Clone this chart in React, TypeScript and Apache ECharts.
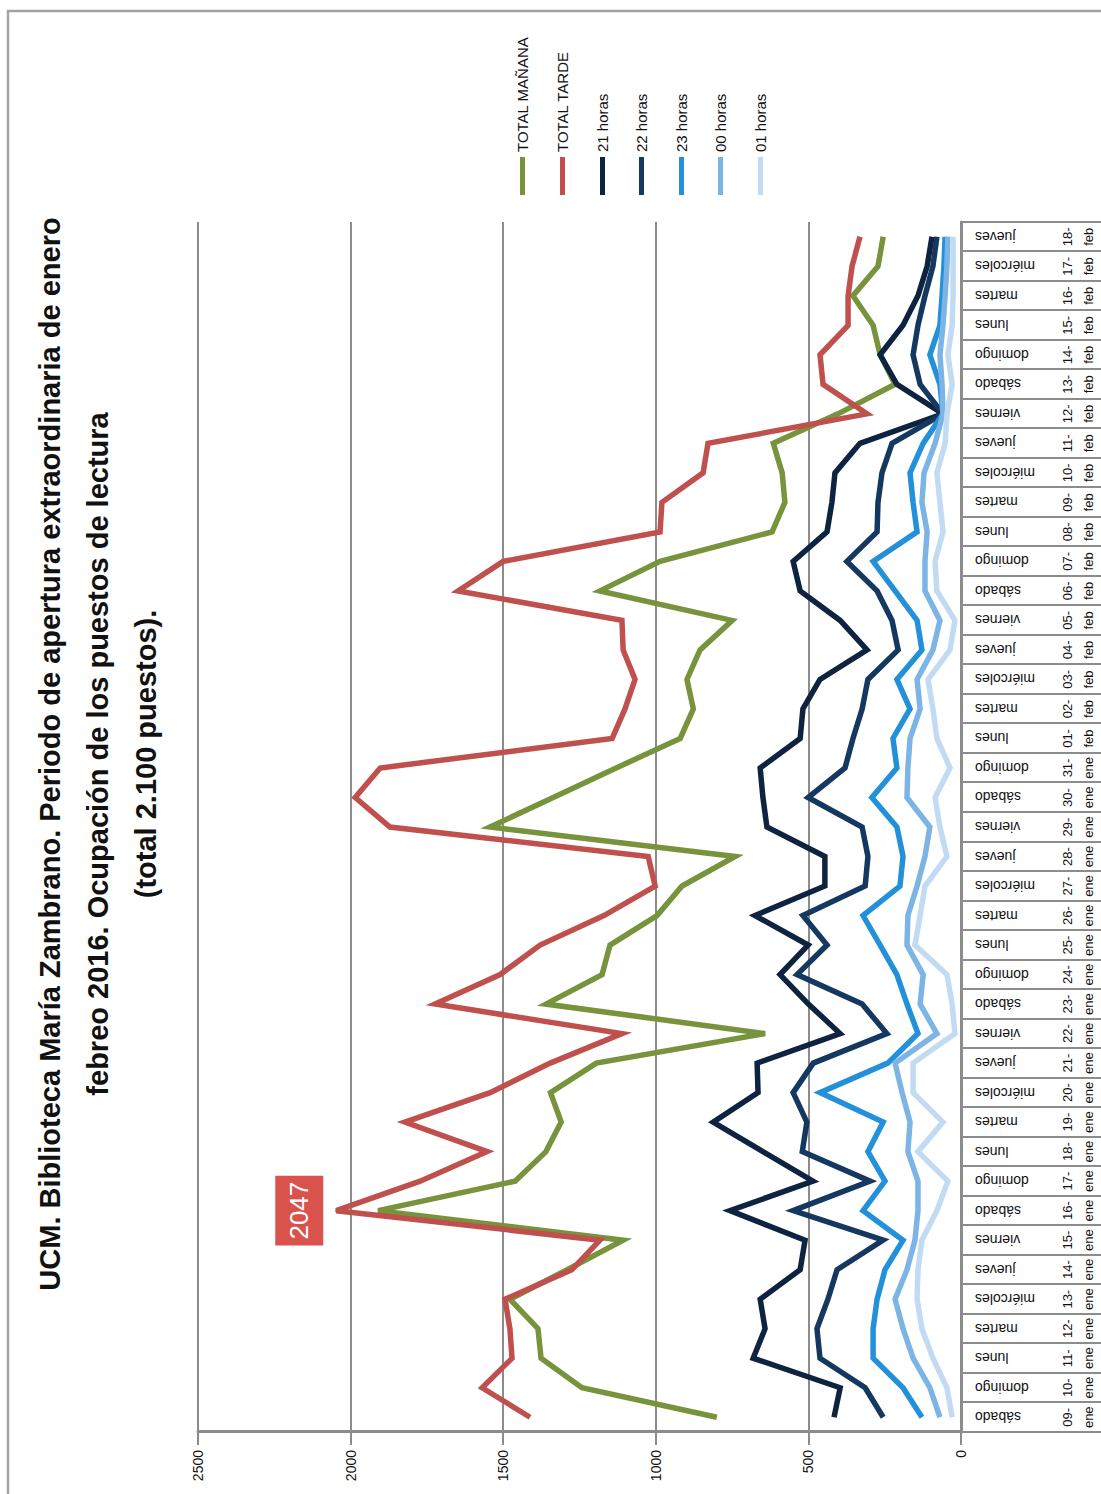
import React, { useEffect, useRef } from 'react';
import * as echarts from 'echarts';

const dates = [
  '09-ene', '10-ene', '11-ene', '12-ene', '13-ene', '14-ene', '15-ene', '16-ene', '17-ene', '18-ene',
  '19-ene', '20-ene', '21-ene', '22-ene', '23-ene', '24-ene', '25-ene', '26-ene', '27-ene', '28-ene',
  '29-ene', '30-ene', '31-ene', '01-feb', '02-feb', '03-feb', '04-feb', '05-feb', '06-feb', '07-feb',
  '08-feb', '09-feb', '10-feb', '11-feb', '12-feb', '13-feb', '14-feb', '15-feb', '16-feb', '17-feb',
  '18-feb',
];

const days = [
  'sábado', 'domingo', 'lunes', 'martes', 'miércoles', 'jueves', 'viernes',
  'sábado', 'domingo', 'lunes', 'martes', 'miércoles', 'jueves', 'viernes',
  'sábado', 'domingo', 'lunes', 'martes', 'miércoles', 'jueves', 'viernes',
  'sábado', 'domingo', 'lunes', 'martes', 'miércoles', 'jueves', 'viernes',
  'sábado', 'domingo', 'lunes', 'martes', 'miércoles', 'jueves', 'viernes',
  'sábado', 'domingo', 'lunes', 'martes', 'miércoles', 'jueves',
];

const seriesNames = ['TOTAL MAÑANA', 'TOTAL TARDE', '21 horas', '22 horas', '23 horas', '00 horas', '01 horas'];

const totalManana = [
  800, 1242, 1376, 1386, 1478, 1290, 1107, 1910, 1461, 1360,
  1310, 1345, 1195, 642, 1360, 1176, 1150, 996, 914, 740,
  1543, 1336, 1130, 920, 877, 898, 855, 750, 1183, 986,
  619, 577, 586, 615, 403, 216, 265, 288, 354, 272,
  255,
];

const totalTarde = [
  1412, 1569, 1471, 1478, 1494, 1275, 1183, 2047, 1772, 1553,
  1822, 1543, 1346, 1111, 1723, 1510, 1379, 1170, 1002, 1025,
  1871, 1985, 1903, 1143, 1101, 1068, 1107, 1111, 1648, 1500,
  986, 980, 845, 829, 308, 452, 462, 370, 370, 357,
  331,
];

const h21 = [
  416, 396, 681, 642, 658, 527, 511, 757, 485, 649,
  812, 665, 668, 396, 500, 593, 501, 675, 446, 446,
  636, 649, 658, 527, 518, 462, 308, 396, 527, 550,
  439, 423, 413, 331, 59, 210, 265, 190, 141, 111,
  95,
];

const h22 = [
  255, 314, 462, 472, 436, 406, 255, 550, 298, 520,
  505, 550, 484, 243, 324, 537, 439, 518, 314, 305,
  324, 501, 380, 354, 324, 305, 206, 226, 275, 374,
  275, 272, 259, 226, 59, 134, 157, 141, 118, 92,
  79,
];

const h23 = [
  128, 190, 288, 288, 275, 249, 190, 321, 249, 305,
  255, 462, 240, 141, 177, 210, 265, 321, 200, 190,
  210, 292, 210, 223, 167, 210, 128, 144, 216, 288,
  144, 157, 167, 124, 59, 69, 102, 69, 62, 56,
  52,
];

const h00 = [
  69, 102, 157, 190, 216, 177, 151, 141, 141, 174,
  167, 193, 216, 79, 134, 124, 177, 174, 144, 118,
  102, 177, 174, 167, 134, 144, 92, 69, 118, 118,
  111, 128, 121, 85, 59, 62, 69, 59, 52, 46,
  43,
];

const h01 = [
  29, 46, 92, 128, 144, 141, 128, 79, 43, 141,
  59, 157, 157, 20, 29, 46, 151, 134, 118, 46,
  69, 85, 36, 79, 92, 108, 36, 20, 79, 85,
  59, 69, 79, 52, 46, 29, 43, 29, 26, 26,
  26,
];

const seriesData = [totalManana, totalTarde, h21, h22, h23, h00, h01];
const seriesColors = ['#77933C', '#C0504D', '#0E2340', '#14385F', '#2390DA', '#7DB4E6', '#C3DBF2'];
const labelledSeries = 1;
const labelledIndex = 7;

const FONT = "'Liberation Sans', Arial, sans-serif";
const GRAY = '#8c8c8c';

export default function App() {
  const ref = useRef<HTMLDivElement>(null);

  useEffect(() => {
    if (!ref.current) return;
    const chart = echarts.init(ref.current, null, { renderer: 'svg' });

    const series = seriesNames.map((name, k) => ({
      name,
      type: 'line',
      xAxisIndex: 0,
      yAxisIndex: 0,
      symbol: 'none',
      showSymbol: true,
      lineStyle: { width: 5.5, color: seriesColors[k], join: 'miter' },
      itemStyle: { color: seriesColors[k] },
      data: seriesData[k].map((v, i) =>
        k === labelledSeries && i === labelledIndex
          ? {
              value: v,
              symbol: 'circle',
              symbolSize: 2,
              label: {
                show: true,
                position: 'top',
                distance: 12,
                formatter: '{c}',
                color: '#ffffff',
                fontFamily: FONT,
                fontSize: 26,
                lineHeight: 28,
                backgroundColor: '#D9524C',
                padding: [10, 6, 10, 6],
              },
            }
          : v
      ),
      z: 2 + k,
    }));

    const legendCenters = [522, 562, 602, 641, 681, 720, 760];

    chart.setOption({
      animation: false,
      backgroundColor: '#ffffff',
      textStyle: { fontFamily: FONT },
      title: {
        text:
          'UCM. Biblioteca María Zambrano. Periodo de apertura extraordinaria de enero\nfebreo 2016. Ocupación de los puestos de lectura\n(total 2.100 puestos).',
        left: 740,
        top: 26,
        textAlign: 'center',
        padding: 0,
        textStyle: {
          fontFamily: FONT,
          fontSize: 29,
          fontWeight: 'bold',
          color: '#111111',
          lineHeight: 48,
        },
      },
      legend: seriesNames.map((name, k) => ({
        data: [name],
        orient: 'vertical',
        left: 1299,
        top: legendCenters[k] - 7,
        padding: 0,
        icon: 'rect',
        itemWidth: 38,
        itemHeight: 5,
        textStyle: { fontFamily: FONT, fontSize: 15, color: '#111111', lineHeight: 14 },
        selectedMode: false,
      })),
      grid: { left: 62, right: 222, top: 198, bottom: 140, containLabel: false },
      xAxis: [
        {
          type: 'category',
          data: dates,
          boundaryGap: true,
          position: 'bottom',
          axisLine: { show: true, lineStyle: { color: GRAY, width: 3 } },
          axisTick: { show: true, interval: 0, length: 140, lineStyle: { color: GRAY, width: 2 } },
          axisLabel: {
            interval: 0,
            rotate: 90,
            margin: 14,
            fontFamily: FONT,
            fontSize: 14,
            color: '#111111',
            formatter: (_v: string, idx: number) => days[idx],
          },
        },
        {
          type: 'category',
          data: dates,
          boundaryGap: true,
          position: 'bottom',
          axisLine: { show: false },
          axisTick: { show: false },
          axisLabel: {
            interval: 0,
            margin: 96,
            fontFamily: FONT,
            fontSize: 13,
            lineHeight: 21,
            color: '#111111',
            formatter: (v: string) => v.replace('-', '-\n'),
          },
        },
      ],
      yAxis: {
        type: 'value',
        min: 0,
        max: 2500,
        interval: 500,
        axisLine: { show: true, lineStyle: { color: GRAY, width: 3 } },
        axisTick: { show: true, length: 13, lineStyle: { color: GRAY, width: 2 } },
        axisLabel: {
          margin: 18,
          fontFamily: FONT,
          fontSize: 14,
          color: '#111111',
          formatter: (v: number) => String(v),
        },
        splitLine: { show: true, lineStyle: { color: GRAY, width: 2 } },
      },
      graphic: [
        {
          type: 'rect',
          shape: { x: -10, y: 8, width: 1493, height: 1200 },
          style: { fill: 'none', stroke: '#a3a3a3', lineWidth: 2.5 },
          silent: true,
          z: -1,
        },
      ],
      series,
    });

    return () => chart.dispose();
  }, []);

  return (
    <div
      style={{
        position: 'fixed',
        left: 0,
        top: 0,
        width: 1101,
        height: 1494,
        overflow: 'hidden',
        background: '#ffffff',
      }}
    >
      <div
        ref={ref}
        style={{
          position: 'absolute',
          left: 0,
          top: 0,
          width: 1494,
          height: 1101,
          transformOrigin: '0 0',
          transform: 'translateY(1494px) rotate(-90deg)',
        }}
      />
    </div>
  );
}
